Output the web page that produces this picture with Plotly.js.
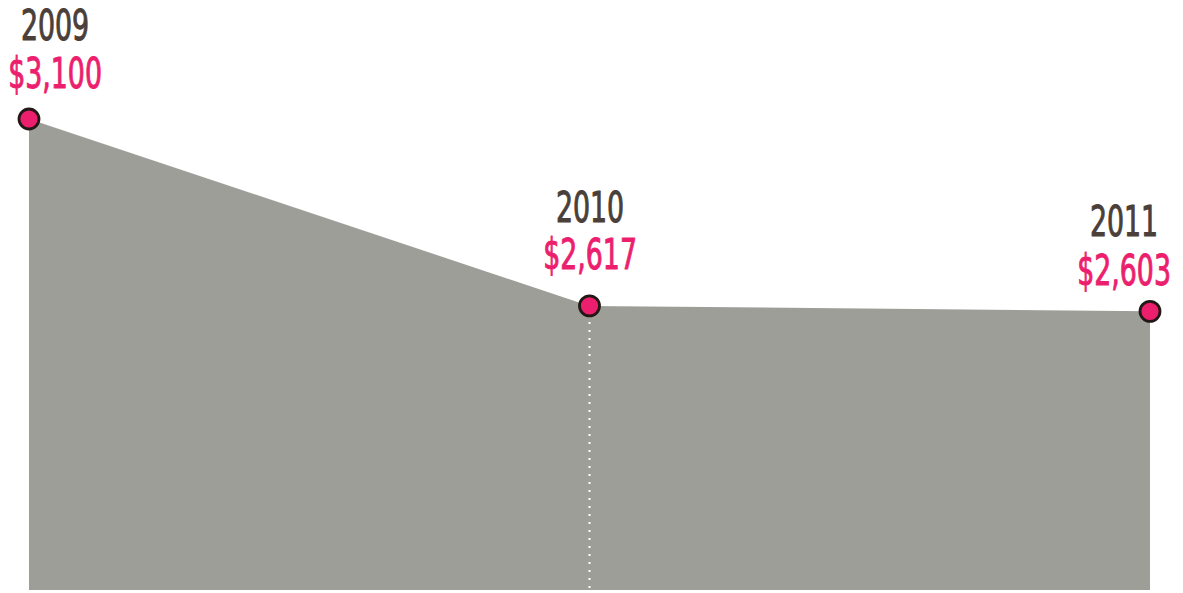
<!DOCTYPE html>
<html>
<head>
<meta charset="utf-8">
<script src="https://cdn.plot.ly/plotly-3.0.1.min.js"></script>
<style>html,body{margin:0;padding:0;background:#fff;}#chart{width:1183px;height:593px;}
.annotation-text-g text{transform-box:fill-box;transform-origin:center;transform:scaleX(0.71);stroke-width:1px;stroke-linejoin:round;}
</style>
</head>
<body>
<div id="chart"></div>
<script>
const years = [2009, 2010, 2011];
const values = [3100, 2617, 2603];
const yearLabels = ["2009", "2010", "2011"];
const valueLabels = ["$3,100", "$2,617", "$2,603"];

const yMin = 1883, yMax = 3407.5;
const FONT = '"DejaVu Sans Condensed", "Liberation Sans Narrow", sans-serif';
const YEAR_COLOR = '#4a3f39';
const PINK = '#ec1f6e';

const area = {
  x: years, y: values, type: 'scatter', mode: 'lines',
  fill: 'tozeroy', fillcolor: '#9e9e99', line: {width: 0, color: '#9e9e99'},
  hoverinfo: 'skip'
};
const divider = {
  x: [years[1], years[1]], y: [values[1], yMin], type: 'scatter', mode: 'lines',
  line: {color: '#ffffff', width: 2, dash: '2px,6px'}, hoverinfo: 'skip'
};
const dots = {
  x: years, y: values, type: 'scatter', mode: 'markers', cliponaxis: false,
  marker: {size: 20, color: PINK, line: {color: '#231815', width: 2.8}}
};

const yearShift = [94, 98, 90];
const valShift = [46, 51, 41];
const xShift = [26, 0, -26];
const annotations = [];
years.forEach((yr, i) => {
  annotations.push({x: yr, y: values[i], xref: 'x', yref: 'y', text: yearLabels[i], showarrow: false,
    xanchor: 'center', yanchor: 'middle', xshift: xShift[i], yshift: yearShift[i],
    font: {family: FONT, size: 42, color: YEAR_COLOR}});
  annotations.push({x: yr, y: values[i], xref: 'x', yref: 'y', text: valueLabels[i], showarrow: false,
    xanchor: 'center', yanchor: 'middle', xshift: xShift[i], yshift: valShift[i],
    font: {family: FONT, size: 42, color: PINK}});
});

const layout = {
  width: 1183, height: 593,
  margin: {l: 29, r: 33, t: 0, b: 3, pad: 0},
  paper_bgcolor: '#ffffff', plot_bgcolor: '#ffffff',
  showlegend: false,
  xaxis: {range: [2009, 2011], visible: false, fixedrange: true},
  yaxis: {range: [yMin, yMax], visible: false, fixedrange: true},
  annotations: annotations
};
Plotly.newPlot('chart', [area, divider, dots], layout, {displayModeBar: false, staticPlot: true}).then(gd => {
  gd.querySelectorAll('.annotation-text-g text').forEach(t => {
    t.style.stroke = t.style.fill;
  });
});
</script>
</body>
</html>
